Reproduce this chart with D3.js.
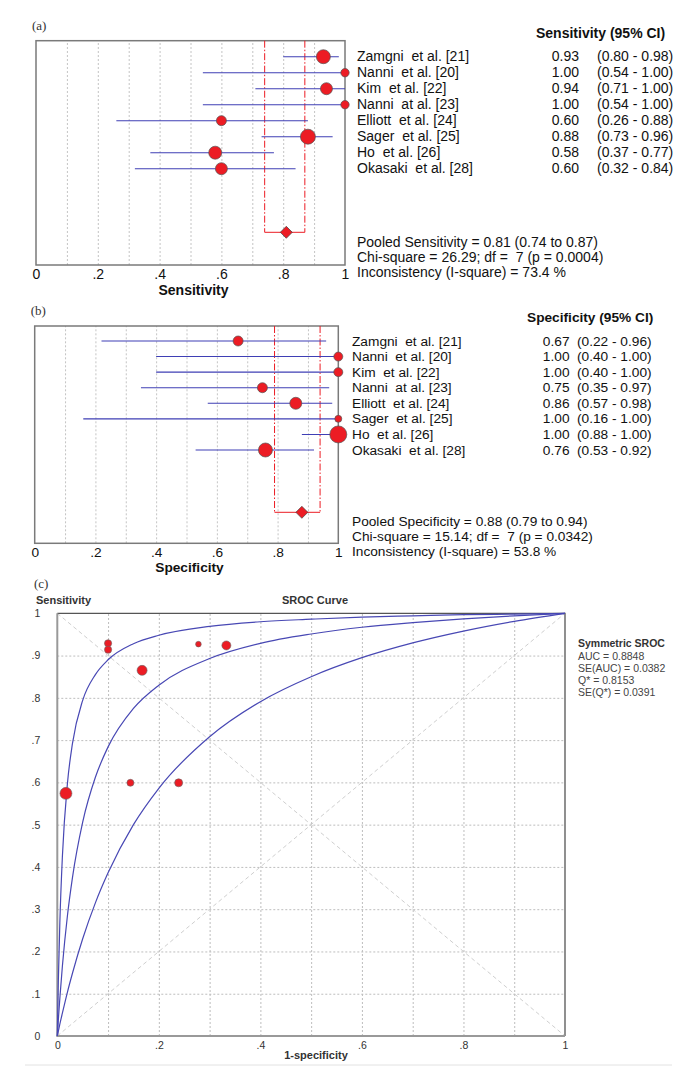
<!DOCTYPE html>
<html>
<head>
<meta charset="utf-8">
<script src="https://cdn.jsdelivr.net/npm/d3@7"></script>
<style>
body { margin: 0; background: #fff; }
svg text { white-space: pre; font-family: "Liberation Sans", Arial, sans-serif; }
.serif { font-family: "Liberation Serif", "DejaVu Serif", serif !important; }
</style>
</head>
<body>
<div id="chart"></div>
<script>
var studies = ["Zamgni  et al. [21]", "Nanni  et al. [20]", "Kim  et al. [22]", "Nanni  at al. [23]",
	"Elliott  et al. [24]", "Sager  et al. [25]", "Ho  et al. [26]", "Okasaki  et al. [28]"];

// sensitivity per study
var sensVal = [0.93, 1.00, 0.94, 1.00, 0.60, 0.88, 0.58, 0.60];
var sensLo = [0.80, 0.54, 0.71, 0.54, 0.26, 0.73, 0.37, 0.32];
var sensHi = [0.98, 1.00, 1.00, 1.00, 0.88, 0.96, 0.77, 0.84];
var sensWeight = [7, 4.2, 6, 4.2, 5, 7.5, 6.5, 6];
var pooledSens = [0.81, 0.74, 0.87];
var sensStats = ["Pooled Sensitivity = 0.81 (0.74 to 0.87)",
	"Chi-square = 26.29; df =  7 (p = 0.0004)",
	"Inconsistency (I-square) = 73.4 %"];

// specificity per study
var specVal = [0.67, 1.00, 1.00, 0.75, 0.86, 1.00, 1.00, 0.76];
var specLo = [0.22, 0.40, 0.40, 0.35, 0.57, 0.16, 0.88, 0.53];
var specHi = [0.96, 1.00, 1.00, 0.97, 0.98, 1.00, 1.00, 0.92];
var specWeight = [5, 4.5, 4.5, 5, 6, 3.5, 8.5, 7];
var pooledSpec = [0.88, 0.79, 0.94];
var specStats = ["Pooled Specificity = 0.88 (0.79 to 0.94)",
	"Chi-square = 15.14; df =  7 (p = 0.0342)",
	"Inconsistency (I-square) = 53.8 %"];

var forestTicks = [0, 0.2, 0.4, 0.6, 0.8, 1];
var gridTicks = [0.1, 0.2, 0.3, 0.4, 0.5, 0.6, 0.7, 0.8, 0.9];

// SROC study points (1-specificity, sensitivity)
var srocFpr = [0.333, 0.100, 0.100, 0.278, 0.144, 0.167, 0.017, 0.239];
var srocTpr = [0.924, 0.929, 0.914, 0.927, 0.599, 0.865, 0.574, 0.599];
var srocWeight = [4.5, 3.6, 3.6, 2.8, 3.5, 5, 6, 4];

// curves
var curveFpr = [0, 0.002, 0.005, 0.01, 0.02, 0.03, 0.05, 0.075, 0.1, 0.15, 0.2, 0.3, 0.4, 0.5, 0.6, 0.7, 0.8, 0.9, 1];
var curveUpper = [0, 0.128, 0.268, 0.424, 0.598, 0.693, 0.794, 0.855, 0.890, 0.928, 0.948, 0.969, 0.980, 0.986, 0.991, 0.994, 0.997, 0.998, 1];
var curveMid = [0, 0.038, 0.089, 0.165, 0.285, 0.376, 0.506, 0.612, 0.684, 0.775, 0.830, 0.893, 0.929, 0.951, 0.967, 0.978, 0.987, 0.994, 1];
var curveLower = [0, 0.011, 0.028, 0.054, 0.104, 0.149, 0.230, 0.315, 0.386, 0.500, 0.586, 0.708, 0.791, 0.850, 0.895, 0.930, 0.958, 0.981, 1];
var srocTicks = [0, 0.2, 0.4, 0.6, 0.8, 1];
var srocYTicks = [0, 0.1, 0.2, 0.3, 0.4, 0.5, 0.6, 0.7, 0.8, 0.9, 1];
var srocLegend = ["AUC = 0.8848", "SE(AUC) = 0.0382", "Q* = 0.8153", "SE(Q*) = 0.0391"];

var RED = "#ec1c24";
var BLUE = "#3f3fb5";

function tickLabel(d) {
	if (d === 0) return "0";
	if (d === 1) return "1";
	return d3.format(".1f")(d).replace(/^0/, "");
}

var svg = d3.select("#chart")
	.append("svg")
	.attr("width", 700)
	.attr("height", 1086);

function makeForest(o) {
	var x = d3.scaleLinear().domain([0, 1]).range([o.x0, o.x1]);
	var y = d3.scalePoint().domain(studies).range([o.rowTop, o.rowBottom]);
	var g = svg.append("g");

	g.append("text").attr("class", "serif")
		.attr("x", o.x0 - 4).attr("y", o.y0 - 11)
		.style("font-size", "13px").attr("fill", "#333")
		.text(o.tag);

	// dotted grid
	g.append("g")
		.attr("transform", "translate(0," + o.y1 + ")")
		.call(d3.axisBottom(x).tickValues(gridTicks).tickSize(-(o.y1 - o.y0)).tickFormat(""))
		.call(function(a) {
			a.select(".domain").remove();
			a.selectAll("line").attr("stroke", "#c4c4c4").attr("stroke-dasharray", "2,2");
		});

	g.append("rect")
		.attr("x", o.x0).attr("y", o.y0)
		.attr("width", o.x1 - o.x0).attr("height", o.y1 - o.y0)
		.attr("fill", "none").attr("stroke", "#7a7a7a").attr("stroke-width", 1.5);

	// pooled CI bracket
	g.selectAll(".pooledLine")
		.data([o.pooled[1], o.pooled[2]])
		.enter().append("line")
		.attr("x1", function(d) { return x(d); })
		.attr("x2", function(d) { return x(d); })
		.attr("y1", o.y0).attr("y2", o.pooledY)
		.attr("stroke", RED).attr("stroke-width", 1)
		.attr("stroke-dasharray", "7,2,1.5,2");

	g.append("line")
		.attr("x1", x(o.pooled[1])).attr("x2", x(o.pooled[2]))
		.attr("y1", o.pooledY).attr("y2", o.pooledY)
		.attr("stroke", RED).attr("stroke-width", 1);

	// confidence intervals
	g.selectAll(".ci")
		.data(studies)
		.enter().append("line")
		.attr("x1", function(d, i) { return x(o.lo[i]); })
		.attr("x2", function(d, i) { return x(o.hi[i]); })
		.attr("y1", function(d) { return y(d); })
		.attr("y2", function(d) { return y(d); })
		.attr("stroke", BLUE).attr("stroke-width", 1.1);

	g.selectAll(".est")
		.data(studies)
		.enter().append("circle")
		.attr("cx", function(d, i) { return x(o.val[i]); })
		.attr("cy", function(d) { return y(d); })
		.attr("r", function(d, i) { return o.weight[i]; })
		.attr("fill", RED).attr("stroke", "#555").attr("stroke-width", 0.7);

	var px = x(o.pooled[0]), dh = 6;
	g.append("path")
		.attr("d", "M" + (px - dh) + "," + o.pooledY + "L" + px + "," + (o.pooledY - dh) +
			"L" + (px + dh) + "," + o.pooledY + "L" + px + "," + (o.pooledY + dh) + "Z")
		.attr("fill", RED).attr("stroke", "#444").attr("stroke-width", 0.7);

	// x axis labels
	g.append("g")
		.attr("transform", "translate(0," + o.y1 + ")")
		.call(d3.axisBottom(x).tickValues(forestTicks).tickSize(0).tickPadding(4).tickFormat(tickLabel))
		.call(function(a) {
			a.select(".domain").remove();
			a.selectAll("text").style("font-size", o.fs + "px")
				.style("font-family", "'Liberation Sans', Arial, sans-serif").attr("fill", "#111");
		});

	g.append("text")
		.attr("x", (o.x0 + o.x1) / 2 + 3).attr("y", o.titleY)
		.attr("text-anchor", "middle")
		.style("font-size", o.fs + "px").style("font-weight", "bold").attr("fill", "#111")
		.text(o.title);

	// right-hand table
	g.append("text")
		.attr("x", o.headX).attr("y", o.headY)
		.style("font-size", o.fs + "px").style("font-weight", "bold").attr("fill", "#111")
		.text(o.title + " (95% CI)");

	var rows = g.selectAll(".row")
		.data(studies)
		.enter().append("g")
		.attr("transform", function(d) { return "translate(0," + (y(d) + 4.5) + ")"; })
		.style("font-size", o.fs + "px").attr("fill", "#111");

	rows.append("text").attr("x", o.labelX).text(function(d) { return d; });
	rows.append("text").attr("x", o.valX).attr("text-anchor", "end")
		.text(function(d, i) { return d3.format(".2f")(o.val[i]); });
	rows.append("text").attr("x", o.ciX)
		.text(function(d, i) { return "(" + d3.format(".2f")(o.lo[i]) + " - " + d3.format(".2f")(o.hi[i]) + ")"; });

	g.selectAll(".stat")
		.data(o.stats)
		.enter().append("text")
		.attr("x", o.labelX)
		.attr("y", function(d, i) { return o.statY + i * o.statStep; })
		.style("font-size", o.fs + "px").attr("fill", "#111")
		.text(function(d) { return d; });
}

makeForest({
	tag: "(a)", title: "Sensitivity",
	x0: 36, x1: 345, y0: 40.7, y1: 265,
	rowTop: 56.7, rowBottom: 168.7, pooledY: 232.3,
	val: sensVal, lo: sensLo, hi: sensHi, weight: sensWeight, pooled: pooledSens, stats: sensStats,
	fs: 14, titleY: 295, headX: 536, headY: 38,
	labelX: 357, valX: 579, ciX: 597, statY: 246.5, statStep: 15.4
});

makeForest({
	tag: "(b)", title: "Specificity",
	x0: 34.7, x1: 338.3, y0: 326, y1: 543.3,
	rowTop: 341, rowBottom: 450, pooledY: 512.3,
	val: specVal, lo: specLo, hi: specHi, weight: specWeight, pooled: pooledSpec, stats: specStats,
	fs: 13.7, titleY: 571.5, headX: 527, headY: 322,
	labelX: 352, valX: 569.5, ciX: 577, statY: 525.5, statStep: 15
});

///////////////////////// SROC PANEL /////////////////////////
var sx = d3.scaleLinear().domain([0, 1]).range([57.3, 565]);
var sy = d3.scaleLinear().domain([0, 1]).range([1036, 613.3]);
var sroc = svg.append("g");

sroc.append("text").attr("class", "serif")
	.attr("x", 34).attr("y", 588)
	.style("font-size", "13px").attr("fill", "#333").text("(c)");

sroc.append("text").attr("x", 36).attr("y", 604)
	.style("font-size", "11px").style("font-weight", "bold").attr("fill", "#333").text("Sensitivity");
sroc.append("text").attr("x", 315).attr("y", 604).attr("text-anchor", "middle")
	.style("font-size", "11px").style("font-weight", "bold").attr("fill", "#333").text("SROC Curve");
sroc.append("text").attr("x", 316).attr("y", 1059).attr("text-anchor", "middle")
	.style("font-size", "11px").style("font-weight", "bold").attr("fill", "#333").text("1-specificity");

// grid
sroc.append("g")
	.attr("transform", "translate(0,1036)")
	.call(d3.axisBottom(sx).tickValues(gridTicks).tickSize(-(1036 - 613.3)).tickFormat(""))
	.call(function(a) {
		a.select(".domain").remove();
		a.selectAll("line").attr("stroke", "#bdbdbd").attr("stroke-dasharray", "2,2");
	});
sroc.append("g")
	.attr("transform", "translate(57.3,0)")
	.call(d3.axisLeft(sy).tickValues(gridTicks).tickSize(-(565 - 57.3)).tickFormat(""))
	.call(function(a) {
		a.select(".domain").remove();
		a.selectAll("line").attr("stroke", "#bdbdbd").attr("stroke-dasharray", "2,2");
	});

// diagonals
sroc.selectAll(".diag")
	.data([[0, 0, 1, 1], [0, 1, 1, 0]])
	.enter().append("line")
	.attr("x1", function(d) { return sx(d[0]); })
	.attr("y1", function(d) { return sy(d[1]); })
	.attr("x2", function(d) { return sx(d[2]); })
	.attr("y2", function(d) { return sy(d[3]); })
	.attr("stroke", "#cfcfcf").attr("stroke-dasharray", "4,3");

// frame: dark top/right, grey left/bottom
sroc.append("path")
	.attr("d", "M" + sx(0) + "," + sy(1) + "H" + sx(1) + "V" + sy(0))
	.attr("fill", "none").attr("stroke", "#555").attr("stroke-width", 1.3);
sroc.append("path")
	.attr("d", "M" + sx(0) + "," + sy(1) + "V" + sy(0) + "H" + sx(1))
	.attr("fill", "none").attr("stroke", "#999").attr("stroke-width", 2);

var curveLine = d3.line()
	.x(function(d, i) { return sx(curveFpr[i]); })
	.y(function(d) { return sy(d); })
	.curve(d3.curveMonotoneX);

sroc.selectAll(".curve")
	.data([curveUpper, curveMid, curveLower])
	.enter().append("path")
	.attr("d", curveLine)
	.attr("fill", "none").attr("stroke", "#4848b4").attr("stroke-width", 1.2);

sroc.selectAll(".pt")
	.data(srocFpr)
	.enter().append("circle")
	.attr("cx", function(d) { return sx(d); })
	.attr("cy", function(d, i) { return sy(srocTpr[i]); })
	.attr("r", function(d, i) { return srocWeight[i]; })
	.attr("fill", RED).attr("stroke", "#666").attr("stroke-width", 0.6);

sroc.append("g")
	.attr("transform", "translate(0,1036)")
	.call(d3.axisBottom(sx).tickValues(srocTicks).tickSize(0).tickPadding(6).tickFormat(tickLabel))
	.call(function(a) {
		a.select(".domain").remove();
		a.selectAll("text").style("font-size", "10.5px").attr("fill", "#333")
			.style("font-family", "'Liberation Sans', Arial, sans-serif");
	});
sroc.append("g")
	.attr("transform", "translate(57.3,0)")
	.call(d3.axisLeft(sy).tickValues(srocYTicks).tickSize(0).tickPadding(17).tickFormat(tickLabel))
	.call(function(a) {
		a.select(".domain").remove();
		a.selectAll("text").style("font-size", "10.5px").attr("fill", "#333")
			.style("font-family", "'Liberation Sans', Arial, sans-serif");
	});

// legend
sroc.append("text").attr("x", 578).attr("y", 647)
	.style("font-size", "10.5px").style("font-weight", "bold").attr("fill", "#333").text("Symmetric SROC");
sroc.selectAll(".leg")
	.data(srocLegend)
	.enter().append("text")
	.attr("x", 578)
	.attr("y", function(d, i) { return 659.5 + i * 12; })
	.style("font-size", "10.5px").attr("fill", "#444")
	.text(function(d) { return d; });

// faint bottom rule
svg.append("line")
	.attr("x1", 25).attr("x2", 672).attr("y1", 1065).attr("y2", 1065)
	.attr("stroke", "#e2e2e2");
</script>
</body>
</html>
